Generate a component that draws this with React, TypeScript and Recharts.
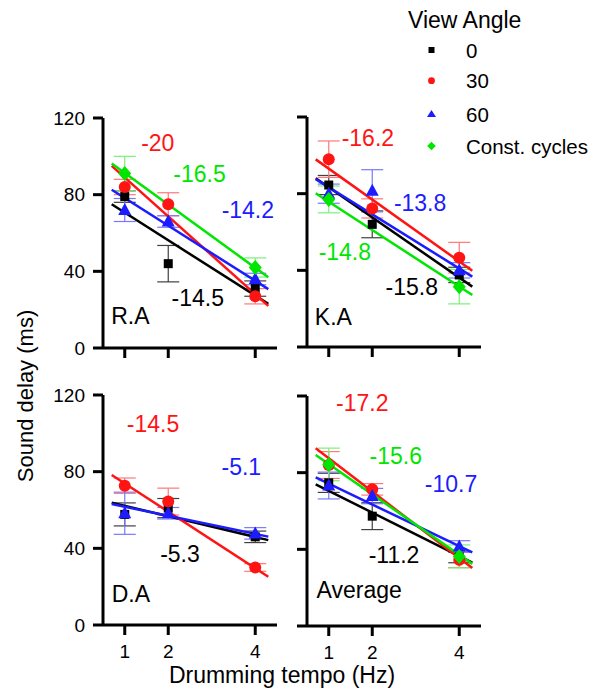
import React from 'react';
import { ScatterChart, Scatter, XAxis, YAxis, ErrorBar } from 'recharts';

const FONT = '"Liberation Sans", Arial, Helvetica, sans-serif';

// ---------- shared ----------
const TEMPO = [1, 2, 4];
const FIT_X = [0.7, 4.3];
const Y_TICKS = [0, 40, 80, 120];
const SERIES_NAMES = ['0', '30', '60', 'Const. cycles'];
const SERIES_COLORS = ['#000000', '#ff1414', '#1c1cff', '#00e600'];
const ERR_COLORS = ['#404040', '#ff7878', '#7878ff', '#78f078'];

// ---------- R.A ----------
const RA_0 = [79, 44, 31];
const RA_0_ERR = [3, 9.5, 4];
const RA_0_FIT = [75, 23];
const RA_30 = [84, 75, 27];
const RA_30_ERR = [4, 6, 4];
const RA_30_FIT = [95, 22];
const RA_60 = [72, 66, 36];
const RA_60_ERR = [6, 3, 3];
const RA_60_FIT = [82.6, 30.7];
const RA_CC = [91, null, 42];
const RA_CC_ERR = [9, 0, 5];
const RA_CC_FIT = [96.3, 36.9];
const RA_SLOPES = [-14.5, -20, -14.2, -16.5];

// ---------- K.A ----------
const KA_0 = [84.5, 64, 37.6];
const KA_0_ERR = [5, 7, 4];
const KA_0_FIT = [88, 31.5];
const KA_30 = [98, 72.3, 46.6];
const KA_30_ERR = [9.5, 5, 8];
const KA_30_FIT = [97.9, 39.8];
const KA_60 = [80, 81.5, 40];
const KA_60_ERR = [5, 11, 4];
const KA_60_FIT = [87.6, 36.7];
const KA_CC = [77, null, 31.5];
const KA_CC_ERR = [7, 0, 9];
const KA_CC_FIT = [80.2, 27.1];
const KA_SLOPES = [-15.8, -16.2, -13.8, -14.8];

// ---------- D.A ----------
const DA_0 = [57.7, 61, 46];
const DA_0_ERR = [6, 5, 3];
const DA_0_FIT = [63.8, 44.3];
const DA_30 = [72.7, 64.4, 30];
const DA_30_ERR = [4, 7, 2];
const DA_30_FIT = [78.3, 25.2];
const DA_60 = [58.3, 58.3, 47.8];
const DA_60_ERR = [11, 3, 3];
const DA_60_FIT = [63.1, 46.1];
const DA_SLOPES = [-5.3, -14.5, -5.1];

// ---------- Average ----------
const AV_0 = [74.7, 57.3, 36];
const AV_0_ERR = [5, 7, 3];
const AV_0_FIT = [73.9, 33.1];
const AV_30 = [84, 71.3, 34.5];
const AV_30_ERR = [7, 3, 4];
const AV_30_FIT = [92.7, 30.2];
const AV_60 = [73.3, 67.8, 41.5];
const AV_60_ERR = [7, 4, 3];
const AV_60_FIT = [77.5, 38.4];
const AV_CC = [84.3, null, 36.3];
const AV_CC_ERR = [8.5, 0, 6];
const AV_CC_FIT = [89.2, 32.4];
const AV_SLOPES = [-11.2, -17.2, -10.7, -15.6];

// ---------- annotation placement (layout, data coords of text centre) ----------
const RA_LABEL_POS = [[2.68, 26.2], [1.76, 107], [3.83, 72.3], [2.72, 90.7]];
const KA_LABEL_POS = [[2.91, 31.5], [1.9, 109], [3.1, 75.3], [1.37, 49.7]];
const DA_LABEL_POS = [[2.27, 37], [1.65, 105], [3.68, 82.6]];
const AV_LABEL_POS = [[2.5, 37], [1.77, 116.7], [3.81, 74], [2.54, 89]];

type Series = { means: (number | null)[]; errs: number[]; fit: number[] };

const PLOT_W = 174;
const PLOT_H = 230;
const ML = 60;
const MT = 20;
const MR = 10;
const XH = 40;

const SquareShape = (p: any) => (
  <rect x={p.cx - 4.5} y={p.cy - 4.5} width={9} height={9} fill={SERIES_COLORS[0]} />
);
const CircleShape = (p: any) => <circle cx={p.cx} cy={p.cy} r={6} fill={SERIES_COLORS[1]} />;
const TriangleShape = (p: any) => (
  <path
    d={`M${p.cx},${p.cy - 7} L${p.cx + 6.5},${p.cy + 5} L${p.cx - 6.5},${p.cy + 5} Z`}
    fill={SERIES_COLORS[2]}
  />
);
const DiamondShape = (p: any) => (
  <path
    d={`M${p.cx},${p.cy - 7.5} L${p.cx + 6.5},${p.cy} L${p.cx},${p.cy + 7.5} L${p.cx - 6.5},${p.cy} Z`}
    fill={SERIES_COLORS[3]}
  />
);
const SHAPES = [SquareShape, CircleShape, TriangleShape, DiamondShape];

const NoShape = () => <g />;

const TextShape = (p: any) => (
  <text
    x={p.cx}
    y={p.cy}
    dy="0.36em"
    fill={p.payload.color}
    textAnchor={p.payload.anchor}
    fontSize={23}
    fontFamily={FONT}
  >
    {p.payload.text}
  </text>
);

function Panel(props: {
  title: string;
  titlePos: number[];
  series: Series[];
  slopes: number[];
  labelPos: number[][];
  plotLeft: number;
  plotTop: number;
  showY: boolean;
  showX: boolean;
}) {
  const { title, titlePos, series, slopes, labelPos, plotLeft, plotTop, showY, showX } = props;
  const labels = slopes.map((s, i) => ({
    x: labelPos[i][0],
    y: labelPos[i][1],
    text: String(s),
    color: SERIES_COLORS[i],
    anchor: 'middle',
  }));
  labels.push({ x: titlePos[0], y: titlePos[1], text: title, color: '#000', anchor: 'start' });
  const axisLine = { stroke: '#000', strokeWidth: 3 };
  const tickLine = { stroke: '#000', strokeWidth: 3 };
  const tickStyle = { fill: '#000', fontSize: 19, fontFamily: FONT };
  return (
    <div style={{ position: 'absolute', left: plotLeft - ML, top: plotTop - MT }}>
      <ScatterChart
        width={ML + PLOT_W + MR}
        height={MT + PLOT_H + XH}
        margin={{ top: MT, right: MR, bottom: 0, left: 0 }}
      >
        <XAxis
          type="number"
          dataKey="x"
          domain={[0.5, 4.5]}
          ticks={TEMPO}
          height={XH}
          axisLine={axisLine}
          tickLine={tickLine}
          tickSize={10}
          tickMargin={10}
          tick={tickStyle}
          tickFormatter={showX ? (v: number) => String(v) : () => ''}
        />
        <YAxis
          type="number"
          dataKey="y"
          domain={[0, 120]}
          ticks={Y_TICKS}
          width={ML}
          axisLine={axisLine}
          tickLine={tickLine}
          tickSize={10}
          tickMargin={8}
          tick={tickStyle}
          tickFormatter={showY ? (v: number) => String(v) : () => ''}
        />
        {series.map((s, i) => (
          <Scatter
            key={`fit-${i}`}
            name={`${SERIES_NAMES[i]} fit`}
            data={FIT_X.map((x, j) => ({ x, y: s.fit[j] }))}
            line={{ stroke: SERIES_COLORS[i], strokeWidth: 2.5 }}
            shape={NoShape}
            fill={SERIES_COLORS[i]}
            isAnimationActive={false}
          />
        ))}
        {series.map((s, i) => (
          <Scatter
            key={`pts-${i}`}
            name={SERIES_NAMES[i]}
            data={TEMPO.map((x, j) => ({ x, y: s.means[j], e: s.errs[j] })).filter((d) => d.y != null)}
            shape={SHAPES[i]}
            fill={SERIES_COLORS[i]}
            isAnimationActive={false}
          >
            <ErrorBar
              dataKey="e"
              direction="y"
              width={11}
              stroke={ERR_COLORS[i]}
              strokeWidth={1.2}
              isAnimationActive={false}
            />
          </Scatter>
        ))}
        <Scatter name="labels" data={labels} shape={TextShape} isAnimationActive={false} />
      </ScatterChart>
    </div>
  );
}

const RA: Series[] = [
  { means: RA_0, errs: RA_0_ERR, fit: RA_0_FIT },
  { means: RA_30, errs: RA_30_ERR, fit: RA_30_FIT },
  { means: RA_60, errs: RA_60_ERR, fit: RA_60_FIT },
  { means: RA_CC, errs: RA_CC_ERR, fit: RA_CC_FIT },
];
const KA: Series[] = [
  { means: KA_0, errs: KA_0_ERR, fit: KA_0_FIT },
  { means: KA_30, errs: KA_30_ERR, fit: KA_30_FIT },
  { means: KA_60, errs: KA_60_ERR, fit: KA_60_FIT },
  { means: KA_CC, errs: KA_CC_ERR, fit: KA_CC_FIT },
];
const DA: Series[] = [
  { means: DA_0, errs: DA_0_ERR, fit: DA_0_FIT },
  { means: DA_30, errs: DA_30_ERR, fit: DA_30_FIT },
  { means: DA_60, errs: DA_60_ERR, fit: DA_60_FIT },
];
const AV: Series[] = [
  { means: AV_0, errs: AV_0_ERR, fit: AV_0_FIT },
  { means: AV_30, errs: AV_30_ERR, fit: AV_30_FIT },
  { means: AV_60, errs: AV_60_ERR, fit: AV_60_FIT },
  { means: AV_CC, errs: AV_CC_ERR, fit: AV_CC_FIT },
];

const LEGEND_Y = [50, 80.7, 114, 146];

export default function App() {
  return (
    <div style={{ position: 'absolute', left: 0, top: 0, width: 595, height: 695, background: '#fff' }}>
      <Panel title="R.A" titlePos={[0.69, 16.8]} series={RA} slopes={RA_SLOPES} labelPos={RA_LABEL_POS}
        plotLeft={103} plotTop={118} showY showX={false} />
      <Panel title="K.A" titlePos={[0.68, 16]} series={KA} slopes={KA_SLOPES} labelPos={KA_LABEL_POS}
        plotLeft={307} plotTop={117} showY={false} showX={false} />
      <Panel title="D.A" titlePos={[0.7, 16.5]} series={DA} slopes={DA_SLOPES} labelPos={DA_LABEL_POS}
        plotLeft={103} plotTop={395} showY showX />
      <Panel title="Average" titlePos={[0.72, 18.8]} series={AV} slopes={AV_SLOPES} labelPos={AV_LABEL_POS}
        plotLeft={307} plotTop={396} showY={false} showX />
      <svg width={595} height={695} style={{ position: 'absolute', left: 0, top: 0, pointerEvents: 'none' }}
        fontFamily={FONT}>
        <text transform="translate(33,396) rotate(-90)" textAnchor="middle" fontSize={22} fill="#000">
          Sound delay (ms)
        </text>
        <text x={282} y={683} textAnchor="middle" fontSize={23} fill="#000">
          Drumming tempo (Hz)
        </text>
        <text x={408} y={28.3} fontSize={23} fill="#000">View Angle</text>
        <rect x={428.5} y={LEGEND_Y[0] - 3} width={6} height={6} fill={SERIES_COLORS[0]} />
        <circle cx={431.5} cy={LEGEND_Y[1]} r={3.4} fill={SERIES_COLORS[1]} />
        <path d={`M431.5,${LEGEND_Y[2] - 4} L436,${LEGEND_Y[2] + 3} L427,${LEGEND_Y[2] + 3} Z`} fill={SERIES_COLORS[2]} />
        <path d={`M431.5,${LEGEND_Y[3] - 4.3} L435.8,${LEGEND_Y[3]} L431.5,${LEGEND_Y[3] + 4.3} L427.2,${LEGEND_Y[3]} Z`} fill={SERIES_COLORS[3]} />
        {SERIES_NAMES.map((n, i) => (
          <text key={n} x={466} y={LEGEND_Y[i] + 7.5} fontSize={20.5} fill="#000">{n}</text>
        ))}
      </svg>
    </div>
  );
}
